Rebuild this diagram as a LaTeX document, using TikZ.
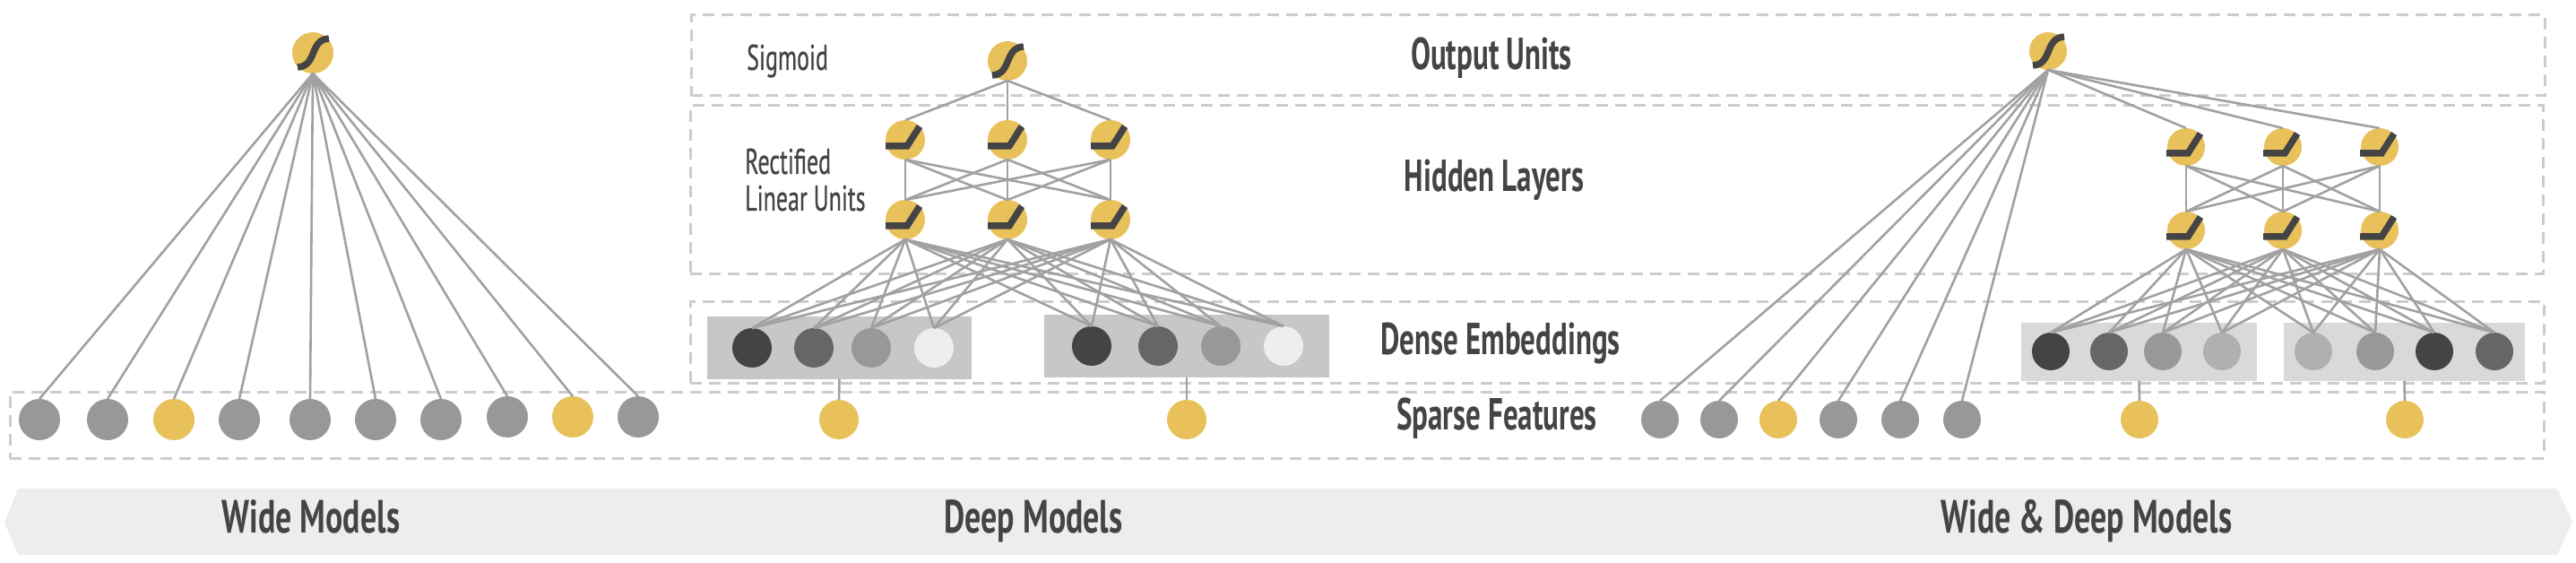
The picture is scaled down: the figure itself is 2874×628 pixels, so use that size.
\documentclass[tikz,border=0pt]{standalone}
\usepackage{fontspec}
\newfontfamily\bandfont[FakeStretch=0.69]{PT Sans}
\newfontfamily\layerfont[FakeStretch=0.66]{PT Sans}
\newfontfamily\smallfont[FakeStretch=0.65,FakeBold=0.5]{PT Sans}
\usetikzlibrary{positioning}
\definecolor{unitgold}{HTML}{E8C15B}
\definecolor{featgray}{HTML}{989898}
\definecolor{embdark}{HTML}{444444}
\definecolor{embmid}{HTML}{666666}
\definecolor{emblight}{HTML}{B0B0B0}
\definecolor{embpale}{HTML}{EEEEEE}
\definecolor{textgray}{HTML}{444444}
\tikzset
{
    unitnode/.style  = {circle, fill=unitgold, minimum size=#1, inner sep=0pt, outer sep=0pt},
    layerbox/.style  = {draw=black!20, line width=3pt, dash pattern=on 13pt off 8pt, anchor=north west, inner sep=0pt, outer sep=0pt},
    embedbox/.style  = {anchor=north west, inner sep=0pt, outer sep=0pt},
    link/.style      = {draw=black!37, line width=2.6pt},
    iconline/.style  = {draw=embdark, line width=7.5pt},
    bandtext/.style  = {anchor=base, text=textgray, font=\bandfont\bfseries\fontsize{52}{52}\selectfont, inner sep=0pt},
    bigtext/.style   = {anchor=base, text=textgray, font=\layerfont\bfseries\fontsize{50}{50}\selectfont, inner sep=0pt},
    smalltext/.style = {anchor=base west, text=textgray, font=\smallfont\fontsize{40}{40}\selectfont, inner sep=0pt}
}
\begin{document}
\begin{tikzpicture}[x=1pt, y=-1pt]
    \useasboundingbox (0,0) rectangle (2874,628);

    \node (outputbox) [layerbox, minimum width=2068pt, minimum height=90pt] at (771,17) {};
    \node (hiddenbox) [layerbox, minimum width=2067pt, minimum height=187pt] at (770,118) {};
    \node (densebox) [layerbox, minimum width=2068pt, minimum height=91pt] at (770,336) {};
    \node (sparsebox) [layerbox, minimum width=2827pt, minimum height=74pt] at (11,437) {};

    \fill [black!7] (5,583) -- (20,545) -- (2853,545) -- (2870,582) -- (2853,619) -- (20,619) -- cycle;

    \node (widelabel) [bandtext] at (347,594) {Wide Models};
    \node (deeplabel) [bandtext] at (1153,594) {Deep Models};
    \node (bothlabel) [bandtext] at (2328,594) {Wide \& Deep Models};
    \node (outputlabel) [bigtext] at (1664,78) {Output Units};
    \node (hiddenlabel) [bigtext] at (1667,214) {Hidden Layers};
    \node (denselabel) [bigtext] at (1674,395) {Dense Embeddings};
    \node (sparselabel) [bigtext] at (1670,479) {Sparse Features};
    \node (sigmoidlabel) [smalltext] at (833,78) {Sigmoid};
    \node (rectlabel) [smalltext] at (831,194) {Rectified};
    \node (linearlabel) [smalltext] at (831,235) {Linear Units};

    \node (wideout) [unitnode=46pt] at (349,59) {};
    \node (wide1) [unitnode=46pt, fill=featgray] at (44,468) {};
    \node (wide2) [unitnode=46pt, fill=featgray] at (120,468) {};
    \node (wide3) [unitnode=46pt] at (194,468) {};
    \node (wide4) [unitnode=46pt, fill=featgray] at (267,468) {};
    \node (wide5) [unitnode=46pt, fill=featgray] at (346,468) {};
    \node (wide6) [unitnode=46pt, fill=featgray] at (419,468) {};
    \node (wide7) [unitnode=46pt, fill=featgray] at (492,468) {};
    \node (wide8) [unitnode=46pt, fill=featgray] at (566,465) {};
    \node (wide9) [unitnode=46pt] at (639,465) {};
    \node (wide10) [unitnode=46pt, fill=featgray] at (712,465) {};

    \node (deepbox1) [embedbox, fill=black!22, minimum width=295pt, minimum height=70pt] at (789,353) {};
    \node (deepbox2) [embedbox, fill=black!22, minimum width=318pt, minimum height=70pt] at (1165,351) {};
    \node (deepout) [unitnode=44pt] at (1124,68) {};
    \node (deepa1) [unitnode=44pt] at (1010,156) {};
    \node (deepa2) [unitnode=44pt] at (1124,156) {};
    \node (deepa3) [unitnode=44pt] at (1239,156) {};
    \node (deepb1) [unitnode=44pt] at (1010,245) {};
    \node (deepb2) [unitnode=44pt] at (1124,245) {};
    \node (deepb3) [unitnode=44pt] at (1239,245) {};
    \node (deepe1) [unitnode=44pt, fill=embdark] at (839,388) {};
    \node (deepe2) [unitnode=44pt, fill=embmid] at (908,388) {};
    \node (deepe3) [unitnode=44pt, fill=featgray] at (972,388) {};
    \node (deepe4) [unitnode=44pt, fill=embpale] at (1042,388) {};
    \node (deepe5) [unitnode=44pt, fill=embdark] at (1218,386) {};
    \node (deepe6) [unitnode=44pt, fill=embmid] at (1292,386) {};
    \node (deepe7) [unitnode=44pt, fill=featgray] at (1362,386) {};
    \node (deepe8) [unitnode=44pt, fill=embpale] at (1432,386) {};
    \node (deepin1) [unitnode=44pt] at (936,468) {};
    \node (deepin2) [unitnode=44pt] at (1324,468) {};

    \node (bothbox1) [embedbox, fill=black!15, minimum width=263pt, minimum height=65pt] at (2255,360) {};
    \node (bothbox2) [embedbox, fill=black!15, minimum width=269pt, minimum height=65pt] at (2548,360) {};
    \node (bothout) [unitnode=42pt] at (2285,57) {};
    \node (botha1) [unitnode=42pt] at (2439,164) {};
    \node (botha2) [unitnode=42pt] at (2547,164) {};
    \node (botha3) [unitnode=42pt] at (2655,164) {};
    \node (bothb1) [unitnode=42pt] at (2439,257) {};
    \node (bothb2) [unitnode=42pt] at (2547,257) {};
    \node (bothb3) [unitnode=42pt] at (2655,257) {};
    \node (bothe1) [unitnode=42pt, fill=embdark] at (2288,392) {};
    \node (bothe2) [unitnode=42pt, fill=embmid] at (2353,392) {};
    \node (bothe3) [unitnode=42pt, fill=featgray] at (2413,392) {};
    \node (bothe4) [unitnode=42pt, fill=emblight] at (2479,392) {};
    \node (bothe5) [unitnode=42pt, fill=emblight] at (2581,392) {};
    \node (bothe6) [unitnode=42pt, fill=featgray] at (2650,392) {};
    \node (bothe7) [unitnode=42pt, fill=embdark] at (2716,392) {};
    \node (bothe8) [unitnode=42pt, fill=embmid] at (2783,392) {};
    \node (both1) [unitnode=42pt, fill=featgray] at (1852,468) {};
    \node (both2) [unitnode=42pt, fill=featgray] at (1918,468) {};
    \node (both3) [unitnode=42pt] at (1984,468) {};
    \node (both4) [unitnode=42pt, fill=featgray] at (2051,468) {};
    \node (both5) [unitnode=42pt, fill=featgray] at (2120,468) {};
    \node (both6) [unitnode=42pt, fill=featgray] at (2189,468) {};
    \node (bothin1) [unitnode=42pt] at (2387,468) {};
    \node (bothin2) [unitnode=42pt] at (2683,468) {};

    \foreach \i in {1,...,10}
        \draw [link] (wideout.south) -- (wide\i.north);
    \foreach \i in {1,...,6}
        \draw [link] (bothout.south) -- (both\i.north);
    \foreach \m in {deep,both}
    {
        \foreach \i in {1,2,3}
        {
            \draw [link] (\m out.south) -- (\m a\i.north);
            \foreach \j in {1,2,3}
                \draw [link] (\m a\i.south) -- (\m b\j.north);
            \foreach \j in {1,...,8}
                \draw [link] (\m b\i.south) -- (\m e\j.north);
        }
        \draw [link] (\m in1.north) -- (\m box1.south);
        \draw [link] (\m in2.north) -- (\m box2.south);
    }

    \foreach \unit in {wideout,deepout,bothout}
        \draw [iconline] ([shift={(-17,16)}]\unit.center) .. controls +(22,-1) and +(-22,1) .. +(35,-32);
    \foreach \unit in {deepa1,deepa2,deepa3,deepb1,deepb2,deepb3,botha1,botha2,botha3,bothb1,bothb2,bothb3}
        \draw [iconline] ([shift={(-22,7)}]\unit.center) -- ++(24,0) -- ++(14,-22);
\end{tikzpicture}
\end{document}
